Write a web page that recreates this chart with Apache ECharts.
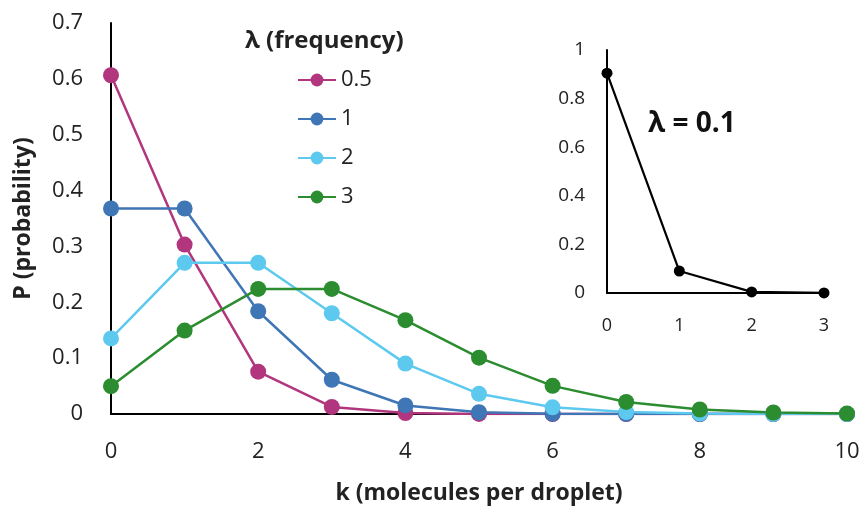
<!DOCTYPE html>
<html><head><meta charset="utf-8">
<script src="https://cdn.jsdelivr.net/npm/echarts@6/dist/echarts.min.js"></script>
<style>html,body{margin:0;padding:0;background:#fff}#c{width:864px;height:507px}</style>
</head><body><div id="c"></div>
<script>
const kValues = [0,1,2,3,4,5,6,7,8,9,10];
const seriesNames = ['0.5','1','2','3'];
const p05 = [0.6065,0.3033,0.0758,0.0126,0.0016,0.0002,0.0000,0.0000,0.0000,0.0000,0.0000];
const p1  = [0.3679,0.3679,0.1839,0.0613,0.0153,0.0031,0.0005,0.0001,0.0000,0.0000,0.0000];
const p2  = [0.1353,0.2707,0.2707,0.1804,0.0902,0.0361,0.0120,0.0034,0.0009,0.0002,0.0000];
const p3  = [0.0498,0.1494,0.2240,0.2240,0.1680,0.1008,0.0504,0.0216,0.0081,0.0027,0.0008];
const insetK = [0,1,2,3];
const p01 = [0.9048,0.0905,0.0045,0.0002];
const colors = ['#B1367D','#3F76B5','#5DC9EE','#2B8C30'];
const font = '"Open Sans", "Noto Sans", sans-serif';

const mainData = [p05,p1,p2,p3];
const chart = echarts.init(document.getElementById('c'));
const series = mainData.map((d,i)=>({
  name: seriesNames[i], type:'line', xAxisIndex:0, yAxisIndex:0,
  data: d.map((v,j)=>[kValues[j], v]),
  symbol:'circle', symbolSize:16, showSymbol:true,
  lineStyle:{color:colors[i], width:2.5},
  itemStyle:{color:colors[i]},
  animation:false
}));
series.push({
  name:'0.1', type:'line', xAxisIndex:1, yAxisIndex:1,
  data: p01.map((v,j)=>[insetK[j], v]),
  symbol:'circle', symbolSize:11,
  lineStyle:{color:'#000', width:2.2}, itemStyle:{color:'#000'},
  animation:false
});
const axisLine = {show:true, lineStyle:{color:'#000', width:2}};
chart.setOption({
  animation:false,
  textStyle:{fontFamily:font},
  grid:[
    {left:111, right:17, top:23, bottom:93, containLabel:false, outerBoundsMode:'none'},
    {left:607, width:217, top:50, height:243, containLabel:false, outerBoundsMode:'none'}
  ],
  xAxis:[
    {type:'value', gridIndex:0, min:0, max:10, interval:2,
     axisLine, axisTick:{show:false}, splitLine:{show:false},
     axisLabel:{fontSize:22, color:'#222', margin:27, fontFamily:font},
     name:'k (molecules per droplet)', nameLocation:'middle', nameGap:68,
     nameTextStyle:{fontSize:23, fontWeight:'bold', color:'#222', fontFamily:font}},
    {type:'value', gridIndex:1, min:0, max:3, interval:1,
     axisLine, axisTick:{show:false}, splitLine:{show:false},
     axisLabel:{fontSize:18, color:'#222', margin:24, fontFamily:font}}
  ],
  yAxis:[
    {type:'value', gridIndex:0, min:0, max:0.7, interval:0.1,
     axisLine, axisTick:{show:false}, splitLine:{show:false},
     axisLabel:{fontSize:22, color:'#222', margin:28, fontFamily:font, formatter:v=>String(+v.toFixed(1))},
     name:'P (probability)', nameLocation:'middle', nameGap:76, nameRotate:90,
     nameTextStyle:{fontSize:23, fontWeight:'bold', color:'#222', fontFamily:font}},
    {type:'value', gridIndex:1, min:0, max:1, interval:0.2,
     axisLine, axisTick:{show:false}, splitLine:{show:false},
     axisLabel:{fontSize:19, color:'#222', margin:22, fontFamily:font, formatter:v=>String(+v.toFixed(1))}}
  ],
  legend:{
    data: seriesNames, orient:'vertical', left:292, top:64,
    itemWidth:38, itemHeight:16, itemGap:17,
    textStyle:{fontSize:22, color:'#222', fontFamily:font}
  },
  graphic:[
    {type:'text', left:245, top:29, style:{text:'λ (frequency)', font:'bold 24px '+font, fill:'#222'}},
    {type:'text', left:648, top:110, style:{text:'λ = 0.1', font:'bold 28px '+font, fill:'#111'}}
  ],
  series
});
</script></body></html>
